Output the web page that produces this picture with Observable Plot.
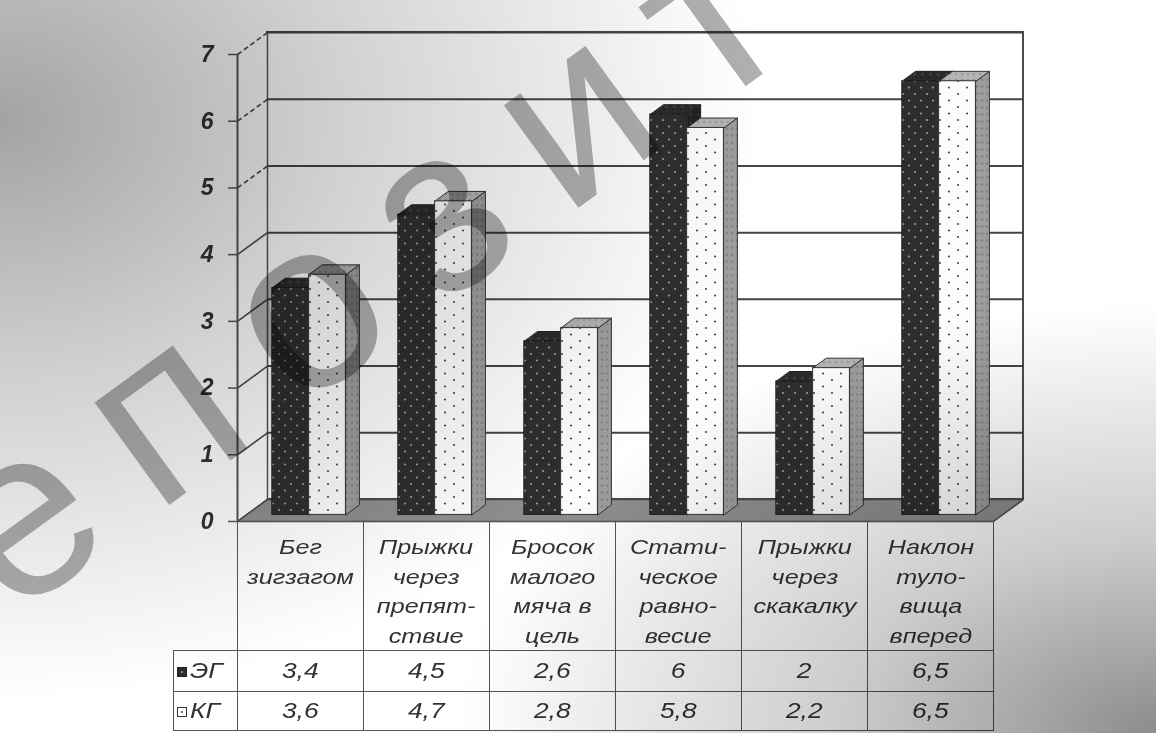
<!DOCTYPE html>
<html>
<head>
<meta charset="utf-8">
<script src="https://cdn.jsdelivr.net/npm/d3@7"></script>
<script src="https://cdn.jsdelivr.net/npm/@observablehq/plot@0.6"></script>
<style>
  html, body { margin: 0; padding: 0; background: #fff; }
  #wrap { position: relative; width: 1156px; height: 733px; overflow: hidden; background: #fff;
          font-family: "Liberation Sans", Arial, sans-serif; color: #333; }
  #chart { position: absolute; left: 0; top: 0; }
  table.data { position: absolute; left: 173px; top: 521px; border-collapse: collapse; table-layout: fixed; }
  table.data td { border: 1.6px solid #555; padding: 0; text-align: center; font-style: italic; color: #333; }
  table.data td.corner { border: none; }
  table.data td span.t { display: inline-block; transform: scaleX(1.2); transform-origin: 50% 50%; }
  table.data tr.head td { height: 126px; vertical-align: top; font-size: 21px; line-height: 29.5px; padding-top: 10px; box-sizing: border-box; white-space: pre; }
  table.data tr.val td { font-size: 22px; }
  table.data tr.r1 td { height: 40px; }
  table.data tr.r2 td { height: 38px; }
  table.data td.leg { text-align: left; padding-left: 3px; white-space: nowrap; }
  table.data td.leg span.t { transform-origin: 0 50%; }
  .sw { display: inline-block; width: 10px; height: 10px; margin-right: 3px; vertical-align: 1px; position: relative; box-sizing: border-box; }
  .sw.eg { background: #2a2a2a; border: 1px solid #222; }
  .sw.kg { background: #fff; border: 1.5px solid #333; }
  .sw::after { content: ""; position: absolute; left: 3px; top: 3px; width: 2px; height: 2px; border-radius: 1px; }
  .sw.eg::after { background: #aaa; }
  .sw.kg::after { background: #444; }
  .overlay { position: absolute; left: 0; top: 0; width: 1156px; height: 733px; pointer-events: none; }
  .shade { mix-blend-mode: multiply;
    background:
      radial-gradient(ellipse 760px 580px at 0px 120px, rgba(0,0,0,0.36) 0%, rgba(0,0,0,0.18) 45%, rgba(0,0,0,0) 100%),
      radial-gradient(ellipse 700px 430px at 1156px 733px, rgba(0,0,0,0.45) 0%, rgba(0,0,0,0.2) 45%, rgba(0,0,0,0) 100%);
  }
  .wm { mix-blend-mode: multiply; }
</style>
</head>
<body>
<!-- fill patterns for the dotted bar faces -->
<svg width="0" height="0" style="position:absolute">
  <defs>
    <pattern id="egFront" width="12" height="13" patternUnits="userSpaceOnUse">
      <rect width="12" height="13" fill="#2e2e2e"/>
      <circle cx="3" cy="3" r="1.1" fill="#9c9c9c"/>
      <circle cx="9" cy="9.5" r="1.1" fill="#9c9c9c"/>
    </pattern>
    <pattern id="egTop" width="8" height="8" patternUnits="userSpaceOnUse">
      <rect width="8" height="8" fill="#2a2a2a"/>
      <circle cx="2" cy="2" r="0.8" fill="#777"/>
    </pattern>
    <pattern id="egSide" width="8" height="8" patternUnits="userSpaceOnUse">
      <rect width="8" height="8" fill="#222"/>
      <circle cx="2" cy="2" r="0.8" fill="#666"/>
    </pattern>
    <pattern id="kgFront" width="18" height="13" patternUnits="userSpaceOnUse">
      <rect width="18" height="13" fill="#fdfdfd"/>
      <circle cx="4" cy="3" r="1.1" fill="#4a4a4a"/>
      <circle cx="13" cy="9.5" r="1.1" fill="#4a4a4a"/>
    </pattern>
    <pattern id="kgTop" width="6" height="6" patternUnits="userSpaceOnUse">
      <rect width="6" height="6" fill="#b4b4b4"/>
      <circle cx="1.5" cy="1.5" r="0.8" fill="#666"/>
    </pattern>
    <pattern id="kgSide" width="5" height="7" patternUnits="userSpaceOnUse">
      <rect width="5" height="7" fill="#9d9d9d"/>
      <circle cx="1.5" cy="2" r="0.8" fill="#555"/>
    </pattern>
  </defs>
</svg>

<div id="wrap">
  <div id="chart"></div>
  <table class="data" id="tbl"></table>
  <div class="overlay shade"></div>
  <svg class="overlay wm" width="1156" height="733">
    <text x="-146" y="734" transform="rotate(-36 -146 734)" font-family="Liberation Sans, Arial, sans-serif"
          font-size="240" letter-spacing="45" fill="#b0b0b0">Репозито</text>
  </svg>
</div>

<script>
// Categories (multi-line labels as printed in the data table)
const categories = [
  "Бег\nзигзагом",
  "Прыжки\nчерез\nпрепят-\nствие",
  "Бросок\nмалого\nмяча в\nцель",
  "Стати-\nческое\nравно-\nвесие",
  "Прыжки\nчерез\nскакалку",
  "Наклон\nтуло-\nвища\nвперед"
];
const seriesNames = ["ЭГ", "КГ"];
const valuesEG = [3.4, 4.5, 2.6, 6, 2, 6.5];
const valuesKG = [3.6, 4.7, 2.8, 5.8, 2.2, 6.5];
const yTicks = [0, 1, 2, 3, 4, 5, 6, 7];

// 3-D oblique geometry, in scale units (x: category units, y: value units)
const DX = 0.238, DY = 0.33;      // full depth of the plot box
const F0 = 0.30, F1 = 0.75;       // front / back of the bars, as fraction of depth
const GAP = 0.205, BW = 0.292;    // left gap and bar width, in category units
const fills = {
  "ЭГ": {front: "url(#egFront)", top: "url(#egTop)", side: "url(#egSide)"},
  "КГ": {front: "url(#kgFront)", top: "url(#kgTop)", side: "url(#kgSide)"}
};

function barGeometry(values, s) {
  const name = seriesNames[s];
  const fronts = [], faces = [];
  values.forEach((v, i) => {
    const x0 = i + GAP + s * BW, x1 = x0 + BW;
    fronts.push({x1: x0 + F0 * DX, x2: x1 + F0 * DX, y1: F0 * DY, y2: v + F0 * DY, fill: fills[name].front});
    const side = `${name}-${i}-side`, top = `${name}-${i}-top`;
    [[x1 + F0 * DX, F0 * DY], [x1 + F1 * DX, F1 * DY], [x1 + F1 * DX, v + F1 * DY], [x1 + F0 * DX, v + F0 * DY]]
      .forEach(([x, y]) => faces.push({id: side, x, y, fill: fills[name].side}));
    [[x0 + F0 * DX, v + F0 * DY], [x1 + F0 * DX, v + F0 * DY], [x1 + F1 * DX, v + F1 * DY], [x0 + F1 * DX, v + F1 * DY]]
      .forEach(([x, y]) => faces.push({id: top, x, y, fill: fills[name].top}));
  });
  return {fronts, faces};
}
const eg = barGeometry(valuesEG, 0);
const kg = barGeometry(valuesKG, 1);

const n = categories.length;
const floor = [[0, 0], [n, 0], [n + DX, DY], [DX, DY]].map(([x, y]) => ({x, y}));
const leftWall = [[0, 0], [DX, DY], [DX, 7 + DY], [0, 7]].map(([x, y]) => ({x, y}));
const gridVals = yTicks.filter(d => d > 0);

const plot = Plot.plot({
  width: 1156,
  height: 733,
  marginLeft: 237,
  marginRight: 1156 - 993,
  marginTop: 54,
  marginBottom: 733 - 521,
  style: {background: "transparent", fontFamily: "Liberation Sans, Arial, sans-serif", color: "#333"},
  x: {domain: [0, n], axis: null},
  y: {domain: [0, 7], axis: null},
  color: {type: "identity"},
  marks: [
    // back wall
    Plot.rect([0], {x1: DX, x2: n + DX, y1: DY, y2: 7 + DY, fill: "#fff", stroke: "#4a4a4a", strokeWidth: 2}),
    // left wall
    Plot.line(leftWall, {x: "x", y: "y", fill: "#fff", stroke: "none", curve: "linear-closed"}),
    Plot.ruleX([0], {x: DX, y1: DY, y2: 7 + DY, stroke: "#555", strokeWidth: 1.5}),
    // grid lines on the back wall
    Plot.ruleY(gridVals, {y: d => d + DY, x1: DX, x2: n + DX, stroke: "#444", strokeWidth: 2}),
    // grid lines running across the left wall (the upper ones print broken)
    Plot.link(yTicks.filter(d => d < 5), {x1: 0, y1: d => d, x2: DX, y2: d => d + DY, stroke: "#4a4a4a", strokeWidth: 1.6}),
    Plot.link(yTicks.filter(d => d >= 5), {x1: 0, y1: d => d, x2: DX, y2: d => d + DY, stroke: "#4a4a4a", strokeWidth: 1.6, strokeDasharray: "5,3"}),
    // floor
    Plot.line(floor, {x: "x", y: "y", fill: "#8e8e8e", stroke: "#4a4a4a", strokeWidth: 1.5, curve: "linear-closed"}),
    // front edge of the value axis
    Plot.ruleX([0], {y1: 0, y2: 7, stroke: "#555", strokeWidth: 2}),
    Plot.axisY(yTicks, {tickSize: 9, tickPadding: 15, fontSize: 23, fontWeight: "bold", fontStyle: "italic",
                        stroke: "#555", strokeWidth: 1.5, tickFormat: d => String(d)}),
    // ЭГ bars
    Plot.line(eg.faces, {x: "x", y: "y", z: "id", fill: "fill", stroke: "#1e1e1e", strokeWidth: 1, curve: "linear-closed"}),
    Plot.rect(eg.fronts, {x1: "x1", x2: "x2", y1: "y1", y2: "y2", fill: "fill", stroke: "#1e1e1e", strokeWidth: 1}),
    // КГ bars
    Plot.line(kg.faces, {x: "x", y: "y", z: "id", fill: "fill", stroke: "#333", strokeWidth: 1, curve: "linear-closed"}),
    Plot.rect(kg.fronts, {x1: "x1", x2: "x2", y1: "y1", y2: "y2", fill: "fill", stroke: "#333", strokeWidth: 1})
  ]
});
document.getElementById("chart").append(plot);

// data table under the chart
const tbl = document.getElementById("tbl");
const colgroup = document.createElement("colgroup");
[64, ...categories.map(() => 126)].forEach(w => {
  const c = document.createElement("col"); c.style.width = w + "px"; colgroup.append(c);
});
tbl.append(colgroup);
function textSpan(s) { const sp = document.createElement("span"); sp.className = "t"; sp.textContent = s; return sp; }
const head = document.createElement("tr");
head.className = "head";
const corner = document.createElement("td"); corner.className = "corner"; head.append(corner);
categories.forEach(c => { const td = document.createElement("td"); td.append(textSpan(c)); head.append(td); });
tbl.append(head);
[valuesEG, valuesKG].forEach((vals, s) => {
  const tr = document.createElement("tr");
  tr.className = "val r" + (s + 1);
  const leg = document.createElement("td");
  leg.className = "leg";
  const sw = document.createElement("span");
  sw.className = "sw " + (s === 0 ? "eg" : "kg");
  leg.append(sw, textSpan(seriesNames[s]));
  tr.append(leg);
  vals.forEach(v => { const td = document.createElement("td"); td.append(textSpan(String(v).replace(".", ","))); tr.append(td); });
  tbl.append(tr);
});
</script>
</body>
</html>
